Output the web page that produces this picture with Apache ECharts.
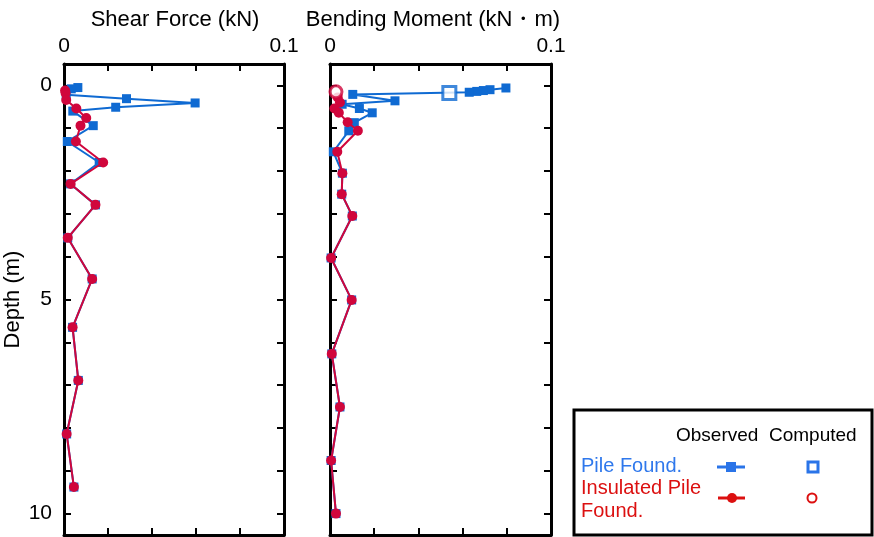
<!DOCTYPE html>
<html>
<head>
<meta charset="utf-8">
<script src="https://cdn.jsdelivr.net/npm/echarts@6/dist/echarts.min.js"></script>
<style>html,body{margin:0;padding:0;background:#fff}#c{width:874px;height:537px}</style>
</head>
<body>
<div id="c"></div>
<script>
// ---- data ----
var shearPileDepth = [0.05, 0.08, 0.22, 0.31, 0.41, 0.51, 0.60, 0.94, 1.31, 1.80, 2.30, 2.79, 3.56, 4.52, 5.65, 6.89, 8.14, 9.38];
var shearPileValue = [0.0063, 0.0033, 0.001, 0.0284, 0.0596, 0.0235, 0.004, 0.0133, 0.0015, 0.016, 0.003, 0.0143, 0.0017, 0.0128, 0.0039, 0.0065, 0.0012, 0.0045];
var shearInsDepth = [0.12, 0.18, 0.34, 0.54, 0.76, 0.94, 1.31, 1.80, 2.30, 2.79, 3.56, 4.52, 5.65, 6.89, 8.14, 9.38];
var shearInsValue = [0.0005, 0.0007, 0.001, 0.0056, 0.0101, 0.0075, 0.0054, 0.0178, 0.003, 0.0143, 0.0017, 0.0128, 0.0039, 0.0065, 0.0012, 0.0045];
var bendPileDepth = [0.06, 0.10, 0.12, 0.14, 0.16, 0.21, 0.36, 0.44, 0.54, 0.64, 0.87, 1.06, 1.55, 2.05, 2.54, 3.05, 4.03, 5.01, 6.27, 7.51, 8.76, 10.0];
var bendPileValue = [0.0796, 0.0724, 0.0694, 0.0664, 0.063, 0.0103, 0.0294, 0.0055, 0.0133, 0.0191, 0.011, 0.0085, 0.0015, 0.0056, 0.0053, 0.0101, 0.0005, 0.0098, 0.0008, 0.0045, 0.0005, 0.0027];
var bendInsDepth = [0.28, 0.40, 0.54, 0.64, 0.86, 1.06, 1.55, 2.05, 2.54, 3.05, 4.03, 5.01, 6.27, 7.51, 8.76, 10.0];
var bendInsValue = [0.0035, 0.0045, 0.002, 0.004, 0.008, 0.0126, 0.0033, 0.0056, 0.0053, 0.0101, 0.0005, 0.0098, 0.0008, 0.0045, 0.0005, 0.0027];
var bendPileComputedDepth = [0.18];
var bendPileComputedValue = [0.054];
var bendInsComputedDepth = [0.15];
var bendInsComputedValue = [0.0027];
var depthTicks = [0, 1, 2, 3, 4, 5, 6, 7, 8, 9, 10];
var depthLabels = [0, 5, 10];
var titles = ['Shear Force (kN)', 'Bending Moment (kN・m)'];

function pairs(v, d) { return v.map(function (x, i) { return [x, d[i]]; }); }

var BLUE = '#0f6ad2', RED = '#d0063c';
var FONT = 'Liberation Sans, Arial, sans-serif';

function xAxes(gi) {
  return [{
    gridIndex: gi, type: 'value', position: 'top', min: 0, max: 0.1, interval: 0.02,
    axisLine: { onZero: false, lineStyle: { color: '#000', width: 3 } },
    axisTick: { inside: true, length: 7, lineStyle: { color: '#000', width: 2 } },
    axisLabel: { fontSize: 21, color: '#000', fontFamily: FONT, margin: 7,
      formatter: function (v) { return Math.abs(v) < 1e-9 ? '0' : (Math.abs(v - 0.1) < 1e-9 ? '0.1' : ''); } },
    splitLine: { show: false }
  }, {
    gridIndex: gi, type: 'value', position: 'bottom', min: 0, max: 0.1, interval: 0.02,
    axisLine: { onZero: false, lineStyle: { color: '#000', width: 3 } },
    axisTick: { inside: true, length: 7, lineStyle: { color: '#000', width: 2 } },
    axisLabel: { show: false }, splitLine: { show: false }
  }];
}
function yAxes(gi, labels) {
  var a = {
    gridIndex: gi, type: 'value', position: 'left', inverse: true, min: -0.5, max: 10.5,
    axisLine: { onZero: false, lineStyle: { color: '#000', width: 3 } },
    axisTick: { inside: true, length: 7, customValues: depthTicks, lineStyle: { color: '#000', width: 2 } },
    axisLabel: { show: labels, customValues: depthLabels, fontSize: 21, color: '#000', fontFamily: FONT, margin: 12 },
    splitLine: { show: false }
  };
  if (labels) {
    a.name = 'Depth (m)'; a.nameLocation = 'middle'; a.nameGap = 40; a.nameRotate = 90;
    a.nameTextStyle = { fontSize: 22, color: '#000', fontFamily: FONT };
  }
  var b = {
    gridIndex: gi, type: 'value', position: 'right', inverse: true, min: -0.5, max: 10.5,
    axisLine: { onZero: false, lineStyle: { color: '#000', width: 3 } },
    axisTick: { inside: true, length: 7, customValues: depthTicks, lineStyle: { color: '#000', width: 2 } },
    axisLabel: { show: false }, splitLine: { show: false }
  };
  return [a, b];
}

function lineSeries(xi, yi, data, color, symbol, size, z) {
  return {
    type: 'line', xAxisIndex: xi, yAxisIndex: yi, data: data, symbol: symbol, symbolSize: size,
    showSymbol: true, animation: false, z: z,
    lineStyle: { color: color, width: 2 }, itemStyle: { color: color, borderWidth: 0 }
  };
}

var chart = echarts.init(document.getElementById('c'), null, { renderer: 'canvas' });
chart.setOption({
  backgroundColor: '#fff',
  animation: false,
  title: [
    { text: titles[0], left: 170, top: 4, textAlign: 'center', textStyle: { fontSize: 22, fontWeight: 'normal', color: '#000', fontFamily: FONT } },
    { text: titles[1], left: 428, top: 4, textAlign: 'center', textStyle: { fontSize: 22, fontWeight: 'normal', color: '#000', fontFamily: FONT } }
  ],
  grid: [
    { left: 64, top: 64, width: 220, height: 471 },
    { left: 330, top: 64, width: 221, height: 471 }
  ],
  xAxis: xAxes(0).concat(xAxes(1)),
  yAxis: yAxes(0, true).concat(yAxes(1, false)),
  series: [
    lineSeries(0, 0, pairs(shearPileValue, shearPileDepth), BLUE, 'rect', 9, 2),
    lineSeries(0, 0, pairs(shearInsValue, shearInsDepth), RED, 'circle', 10, 3),
    lineSeries(2, 2, pairs(bendPileValue, bendPileDepth), BLUE, 'rect', 9, 2),
    lineSeries(2, 2, pairs(bendInsValue, bendInsDepth), RED, 'circle', 10, 3),
    { type: 'scatter', xAxisIndex: 2, yAxisIndex: 2, data: pairs(bendPileComputedValue, bendPileComputedDepth),
      symbol: 'rect', symbolSize: 13, z: 4, itemStyle: { color: '#fff', borderColor: BLUE, borderWidth: 3 } },
    { type: 'scatter', xAxisIndex: 2, yAxisIndex: 2, data: pairs(bendInsComputedValue, bendInsComputedDepth),
      symbol: 'circle', symbolSize: 12, z: 4, itemStyle: { color: '#fff', borderColor: RED, borderWidth: 3 } }
  ],
  graphic: [
    { type: 'rect', shape: { x: 574, y: 410, width: 298, height: 125 }, style: { fill: '#fff', stroke: '#000', lineWidth: 3 }, z: 10 },
    { type: 'text', x: 676, y: 436, style: { text: 'Observed', fontSize: 19, fontFamily: FONT, fill: '#000', verticalAlign: 'middle' }, z: 11 },
    { type: 'text', x: 769, y: 436, style: { text: 'Computed', fontSize: 19, fontFamily: FONT, fill: '#000', verticalAlign: 'middle' }, z: 11 },
    { type: 'text', x: 581, y: 466, style: { text: 'Pile Found.', fontSize: 20, fontFamily: FONT, fill: '#2f78ec', verticalAlign: 'middle' }, z: 11 },
    { type: 'text', x: 581, y: 488, style: { text: 'Insulated Pile', fontSize: 20, fontFamily: FONT, fill: '#dc1010', verticalAlign: 'middle' }, z: 11 },
    { type: 'text', x: 581, y: 511, style: { text: 'Found.', fontSize: 20, fontFamily: FONT, fill: '#dc1010', verticalAlign: 'middle' }, z: 11 },
    { type: 'line', shape: { x1: 717, y1: 467, x2: 745, y2: 467 }, style: { stroke: '#2a74e8', lineWidth: 3 }, z: 11 },
    { type: 'rect', shape: { x: 726, y: 462, width: 10, height: 10 }, style: { fill: '#2a74e8' }, z: 12 },
    { type: 'line', shape: { x1: 718, y1: 498, x2: 745, y2: 498 }, style: { stroke: '#dc1010', lineWidth: 3 }, z: 11 },
    { type: 'circle', shape: { cx: 732, cy: 498, r: 5 }, style: { fill: '#dc1010' }, z: 12 },
    { type: 'rect', shape: { x: 808, y: 462, width: 10, height: 10 }, style: { fill: '#fff', stroke: '#2a74e8', lineWidth: 3 }, z: 12 },
    { type: 'circle', shape: { cx: 812, cy: 498, r: 4.5 }, style: { fill: '#fff', stroke: '#dc1010', lineWidth: 2 }, z: 12 }
  ]
});
</script>
</body>
</html>
